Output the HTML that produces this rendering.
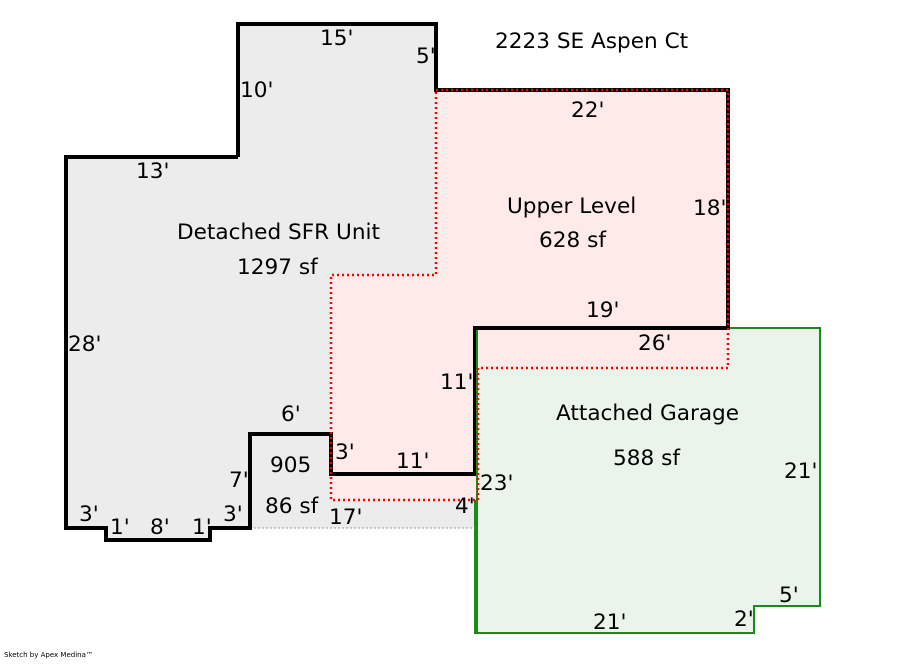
<!DOCTYPE html>
<html><head><meta charset="utf-8"><style>
html,body{margin:0;padding:0;background:#fff}
svg text{font-family:"DejaVu Sans","Liberation Sans",sans-serif;font-size:21.6px;fill:#000}
</style></head><body>
<svg width="900" height="660" viewBox="0 0 900 660" xmlns="http://www.w3.org/2000/svg">
<polygon points="238,24 436,24 436,90 728,90 728,328 475,328 475,528 250,528 250,528 210,528 210,540 106,540 106,528 66,528 66,157 238,157" fill="#ececec"/>
<polygon points="475,328 820,328 820,606 754,606 754,633 475,633" fill="#eaf4ea" stroke="#1a8a1a" stroke-width="2"/>
<polygon points="436,90 728,90 728,368 478,368 478,500 331,500 331,275 436,275" fill="#ffeaea"/>
<line x1="250" y1="528" x2="475" y2="528" stroke="#999" stroke-width="1" stroke-dasharray="2,2"/>
<polyline points="238,157 238,24 436,24 436,90 728,90 728,328 475,328 475,474 331,474 331,434 250,434 250,528 210,528 210,540 106,540 106,528 66,528 66,157 238,157" fill="none" stroke="#000" stroke-width="4" stroke-linejoin="miter"/>
<line x1="477" y1="330" x2="477" y2="633" stroke="#1a8a1a" stroke-width="2"/>
<polygon points="436,90 728,90 728,368 478,368 478,500 331,500 331,275 436,275" fill="none" stroke="#ff0000" stroke-width="2.5" stroke-dasharray="2,3"/>
<text x="495" y="48">2223 SE Aspen Ct</text>
<text x="320" y="45">15'</text>
<text x="416" y="63">5'</text>
<text x="240" y="97">10'</text>
<text x="571" y="117">22'</text>
<text x="136" y="178">13'</text>
<text x="507" y="213">Upper Level</text>
<text x="539" y="247">628 sf</text>
<text x="693" y="215">18'</text>
<text x="177" y="239">Detached SFR Unit</text>
<text x="237" y="274">1297 sf</text>
<text x="586" y="317">19'</text>
<text x="638" y="350">26'</text>
<text x="68" y="351">28'</text>
<text x="440" y="389">11'</text>
<text x="556" y="420">Attached Garage</text>
<text x="281" y="421">6'</text>
<text x="335" y="459">3'</text>
<text x="396" y="468">11'</text>
<text x="613" y="465">588 sf</text>
<text x="270" y="472">905</text>
<text x="784" y="478">21'</text>
<text x="229" y="487">7'</text>
<text x="480" y="490">23'</text>
<text x="265" y="513">86 sf</text>
<text x="455" y="513">4'</text>
<text x="329" y="524">17'</text>
<text x="79" y="521">3'</text>
<text x="223" y="521">3'</text>
<text x="110" y="534">1'</text>
<text x="150" y="534">8'</text>
<text x="192" y="534">1'</text>
<text x="779" y="602">5'</text>
<text x="593" y="629">21'</text>
<text x="734" y="626">2'</text>
<text x="4" y="657" style="font-size:7px">Sketch by Apex Medina™</text>
</svg>
</body></html>
